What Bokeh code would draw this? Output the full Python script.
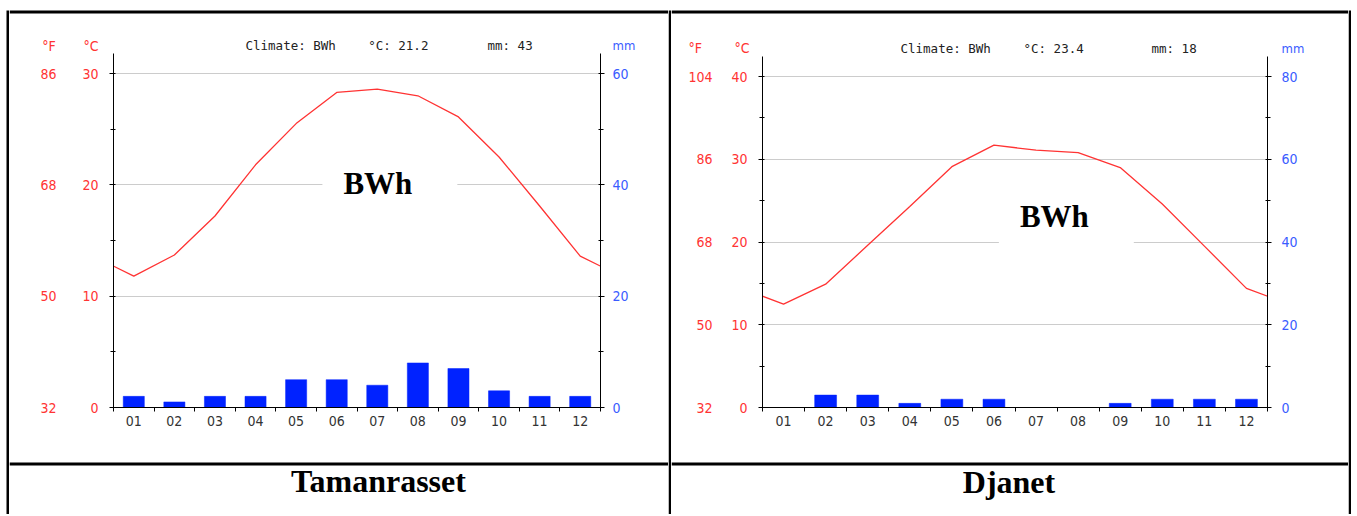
from bokeh.plotting import figure
from bokeh.models import Range1d, LinearAxis, FixedTicker, Label, BoxAnnotation
from bokeh.layouts import column, row
from bokeh.embed import file_html
from bokeh.resources import INLINE

# ---------------- data ----------------
months = ["01", "02", "03", "04", "05", "06", "07", "08", "09", "10", "11", "12"]
stations = ["Tamanrasset", "Djanet"]
climate = ["BWh", "BWh"]

tam_temp = [11.8, 13.7, 17.2, 21.8, 25.5, 28.3, 28.6, 28.0, 26.1, 22.5, 18.1, 13.6]
tam_prec = [2, 1, 2, 2, 5, 5, 4, 8, 7, 3, 2, 2]
tam_mean_c = "21.2"
tam_total_mm = "43"
tam_c_ticks = [0, 10, 20, 30]
tam_f_ticks = [32, 50, 68, 86]
tam_mm_ticks = [0, 20, 40, 60]

dja_temp = [12.5, 14.9, 19.6, 24.3, 29.1, 31.7, 31.1, 30.8, 29.0, 24.6, 19.5, 14.4]
dja_prec = [0, 3, 3, 1, 2, 2, 0, 0, 1, 2, 2, 2]
dja_mean_c = "23.4"
dja_total_mm = "18"
dja_c_ticks = [0, 10, 20, 30, 40]
dja_f_ticks = [32, 50, 68, 86, 104]
dja_mm_ticks = [0, 20, 40, 60, 80]

# ---------------- style ----------------
RED = "#ff3333"
BLUE_TXT = "#3a5cff"
BAR = "#0022ff"
NARROW = "'Liberation Sans Narrow', 'DejaVu Sans Condensed', 'Liberation Sans', sans-serif"
MONO = "DejaVu Sans Mono"
SERIF = "Liberation Serif"


def blank(width, height):
    p = figure(width=width, height=height, output_backend="svg", toolbar_location=None,
               x_range=Range1d(0, width), y_range=Range1d(0, height),
               x_axis_location=None, y_axis_location=None, min_border=0)
    p.grid.visible = False
    p.outline_line_color = None
    p.background_fill_color = "white"
    p.border_fill_color = "white"
    return p


def bar(p, left, right, bottom, top):
    p.add_layout(BoxAnnotation(left=left, right=right, bottom=bottom, top=top,
                               fill_color="black", fill_alpha=1.0, line_color=None))


def strip(width, height, bl, br, top_gap):
    p = blank(width, height)
    bar(p, bl, br, 0, height - top_gap)
    return p


def header(width, height, clim, mean_c, total_mm, hdr_x, unit_x, text_y):
    p = blank(width, height)
    bar(p, 0, width, height - 13, height - 10)
    hdr = ["Climate: " + clim, "°C: " + mean_c, "mm: " + total_mm]
    for t, x in zip(hdr, hdr_x):
        p.add_layout(Label(x=x, y=text_y, text=t, text_align="left",
                           text_baseline="middle", text_font=MONO,
                           text_font_size="12.5px", text_color="#222222"))
    for t, x, col in zip(["°F", "°C", "mm"], unit_x, [RED, RED, BLUE_TXT]):
        p.add_layout(Label(x=x, y=text_y, text=t, text_align="left",
                           text_baseline="middle", text_font=NARROW,
                           text_font_size="14px" if t != "mm" else "13px", text_color=col))
    return p


def name_fig(width, height, text, tx, ty, line_top):
    p = blank(width, height)
    bar(p, 0, width, height - line_top - 3, height - line_top)
    p.add_layout(Label(x=tx, y=ty, text=text, text_align="center",
                       text_baseline="middle", text_font=SERIF,
                       text_font_style="bold", text_font_size="32px", text_color="black"))
    return p


def chart(width, height, fl, fw, fb, px_per_c, temps, precs, c_ticks, f_ticks, mm_ticks,
          clim, bwh_xy, f_standoff, mm_standoff):
    fh = height - fb
    c_top = fh / px_per_c
    p = figure(width=width, height=height, output_backend="svg", toolbar_location=None,
               x_range=Range1d(0, 12), y_range=Range1d(0, c_top),
               min_border_left=fl, min_border_top=0,
               min_border_right=width - fl - fw, min_border_bottom=fb)
    p.outline_line_color = None
    p.background_fill_color = "white"
    p.border_fill_color = "white"
    p.extra_y_ranges = {"mm": Range1d(0, 2 * c_top), "F": Range1d(32, 32 + 1.8 * c_top)}

    step = c_ticks[1] - c_ticks[0]
    c_minor = [t + step / 2 for t in c_ticks[:-1]]
    mstep = mm_ticks[1] - mm_ticks[0]
    mm_minor = [t + mstep / 2 for t in mm_ticks[:-1]]

    centers = [i + 0.5 for i in range(len(months))]
    bounds = list(range(len(months) + 1))

    # month axis
    xa = p.xaxis[0]
    xa.ticker = FixedTicker(ticks=centers, minor_ticks=bounds)
    xa.major_label_overrides = {c: m for c, m in zip(centers, months)}
    xa.major_tick_out = 0
    xa.major_tick_in = 0
    xa.minor_tick_out = 4
    xa.minor_tick_in = 0
    xa.minor_tick_line_color = "black"
    xa.axis_line_color = "black"
    xa.major_label_standoff = 4
    xa.major_label_text_font = NARROW
    xa.major_label_text_font_size = "14px"
    xa.major_label_text_color = "#333333"
    p.xgrid.visible = False

    # °C axis
    ya = p.yaxis[0]
    ya.ticker = FixedTicker(ticks=c_ticks, minor_ticks=c_minor)
    ya.axis_line_color = "black"
    ya.major_tick_out = 4
    ya.major_tick_in = 2
    ya.minor_tick_out = 3
    ya.minor_tick_in = 2
    ya.major_tick_line_color = "black"
    ya.minor_tick_line_color = "black"
    ya.major_label_standoff = 11
    ya.major_label_text_font = NARROW
    ya.major_label_text_font_size = "14px"
    ya.major_label_text_color = RED
    p.ygrid.grid_line_color = "#cccccc"
    p.ygrid.grid_line_width = 1

    # °F axis
    fa = LinearAxis(y_range_name="F", ticker=FixedTicker(ticks=f_ticks, minor_ticks=[]))
    fa.axis_line_color = None
    fa.major_tick_line_color = None
    fa.minor_tick_line_color = None
    fa.major_tick_out = 0
    fa.major_tick_in = 0
    fa.minor_tick_out = 0
    fa.minor_tick_in = 0
    fa.major_label_standoff = f_standoff
    fa.major_label_text_font = NARROW
    fa.major_label_text_font_size = "14px"
    fa.major_label_text_color = RED
    p.add_layout(fa, "left")

    # mm axis
    ma = LinearAxis(y_range_name="mm", ticker=FixedTicker(ticks=mm_ticks, minor_ticks=mm_minor))
    ma.axis_line_color = "black"
    ma.major_tick_out = 4
    ma.major_tick_in = 2
    ma.minor_tick_out = 3
    ma.minor_tick_in = 2
    ma.major_tick_line_color = "black"
    ma.minor_tick_line_color = "black"
    ma.major_label_standoff = mm_standoff
    ma.major_label_text_font = NARROW
    ma.major_label_text_font_size = "14px"
    ma.major_label_text_color = BLUE_TXT
    p.add_layout(ma, "right")

    # precipitation bars
    p.vbar(x=centers, top=precs, width=0.52, bottom=0, y_range_name="mm",
           fill_color=BAR, line_color=BAR, line_width=0.5)

    # temperature line (wraps around the year, clipped at the frame edges)
    lx = [-0.5] + centers + [len(months) + 0.5]
    ly = [temps[-1]] + list(temps) + [temps[0]]
    p.line(lx, ly, line_color=RED, line_width=1.3)

    # climate class label
    p.add_layout(Label(x=bwh_xy[0], y=bwh_xy[1], text=clim, text_align="center",
                       text_baseline="middle", text_font=SERIF, text_font_style="bold",
                       text_font_size="31px", text_color="black",
                       background_fill_color="white", background_fill_alpha=1.0,
                       padding=dict(left=21, right=45, top=10, bottom=12)))
    return p


def solo(p):
    # wrap a figure so that layouts do not align its frame with its neighbours
    return column(p)


TOTAL_H = 514
NAME_TOP = 458
NAME_H = TOTAL_H - NAME_TOP
X_AXIS_Y = 407
WL, WA, WM, WB, WR = 9, 659, 3, 677, 3
HA_H, HB_H = 53, 56

HA = header(WA, HA_H, climate[0], tam_mean_c, tam_total_mm,
            hdr_x=[236, 358.7, 478], unit_x=[32.7, 74, 603], text_y=8)
CA = chart(WA, NAME_TOP - HA_H, 104, 487, NAME_TOP - X_AXIS_Y, (407 - 73) / 30,
           tam_temp, tam_prec, tam_c_ticks, tam_f_ticks, tam_mm_ticks, climate[0],
           bwh_xy=(6.81, 20), f_standoff=23, mm_standoff=8)
NA = name_fig(WA, NAME_H, stations[0], 369, TOTAL_H - 480, line_top=4)

HB = header(WB, HB_H, climate[1], dja_mean_c, dja_total_mm,
            hdr_x=[229, 352, 480], unit_x=[17, 63, 610], text_y=8.5)
CB = chart(WB, NAME_TOP - HB_H, 91, 505, NAME_TOP - X_AXIS_Y, (407 - 76) / 40,
           dja_temp, dja_prec, dja_c_ticks, dja_f_ticks, dja_mm_ticks, climate[1],
           bwh_xy=(7.22, 22.96), f_standoff=16, mm_standoff=10)
NB = name_fig(WB, NAME_H, stations[1], 337.5, TOTAL_H - 481, line_top=4)

layout = row(solo(strip(WL, TOTAL_H, 6, 9, 10)),
             column(solo(HA), solo(CA), solo(NA)),
             solo(strip(WM, TOTAL_H, 0, 3, 10)),
             column(solo(HB), solo(CB), solo(NB)),
             solo(strip(WR, TOTAL_H, 0, 3, 10)))
open("out.html", "w").write(file_html(layout, INLINE))
